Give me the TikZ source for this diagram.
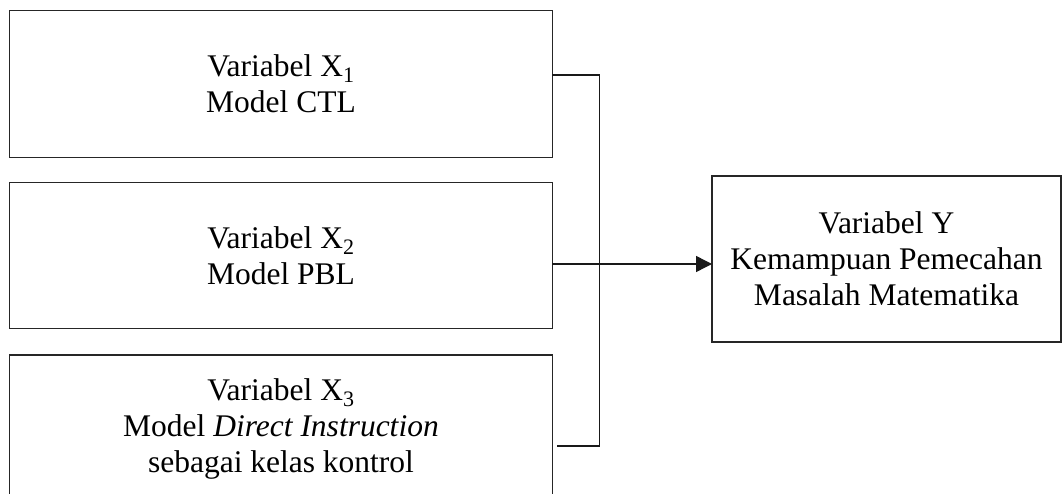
\documentclass[tikz,border=0pt]{standalone}
\usepackage{fontspec}
\setmainfont{Liberation Serif}
\usetikzlibrary{arrows.meta}
\begin{document}
\begin{tikzpicture}[x=1pt,y=-1pt,
  box/.style={draw=black!85,line width=1.2pt,inner sep=0pt,outer sep=0pt,
    align=center,font=\fontsize{31.5}{36}\selectfont},
  link/.style={draw=black!90,line width=1.4pt},
  arr/.style={link,-{Triangle[length=16pt,width=16pt]}}]
\useasboundingbox (0,0) rectangle (1062,494);
% input variables
\node[box,minimum width=542.5pt,minimum height=146.5pt] (x1) at (281,84)
  {Variabel X\textsubscript{1}\\Model CTL};
\node[box,minimum width=542.5pt,minimum height=145.5pt] (x2) at (281,255.5)
  {Variabel X\textsubscript{2}\\Model PBL};
\node[box,minimum width=542.5pt,minimum height=147pt] (x3) at (281,428.5)
  {Variabel X\textsubscript{3}\\Model \textit{Direct Instruction}\\sebagai kelas kontrol};
% outcome variable
\node[box,minimum width=349pt,minimum height=166pt] (y) at (886.5,259)
  {Variabel Y\\Kemampuan Pemecahan\\Masalah Matematika};
% bracket joining X1 and X3
\coordinate (top) at (x1.east |- 0,75);
\coordinate (bot) at ([xshift=5pt]x3.east |- 0,446);
\draw[link] (top) -- ++(47,0) |- (bot);
% arrow from X2 to Y
\coordinate (a0) at (x2.east |- 0,264);
\draw[arr] (a0) -- (y.west |- a0);
\end{tikzpicture}
\end{document}
